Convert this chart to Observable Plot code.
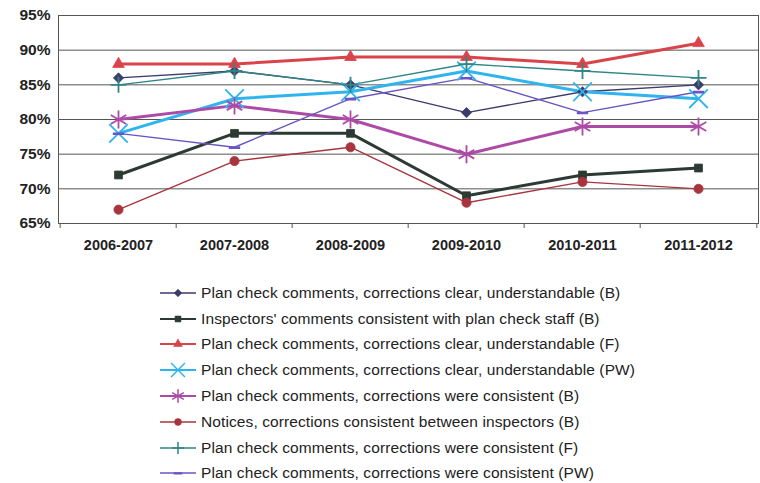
<!DOCTYPE html>
<html>
<head>
<meta charset="utf-8">
<script src="https://cdn.jsdelivr.net/npm/d3@7"></script>
<script src="https://cdn.jsdelivr.net/npm/@observablehq/plot@0.6"></script>
<style>
  html, body { margin: 0; padding: 0; background: #fff; }
  body { width: 760px; height: 483px; overflow: hidden; font-family: "Liberation Sans", Arial, sans-serif; }
  #legend { margin-left: 160px; margin-top: 22px; }
  .row { display: flex; align-items: center; height: 25.8px; }
  .row svg { display: block; margin-right: 3px; }
  .row span { font-size: 15.5px; color: #222; letter-spacing: 0.1px; }
</style>
</head>
<body>
<div id="chart"></div>
<div id="legend"></div>
<script>
const years = ["2006-2007", "2007-2008", "2008-2009", "2009-2010", "2010-2011", "2011-2012"];
const yTicks = [65, 70, 75, 80, 85, 90, 95];

const seriesNames = [
  "Plan check comments, corrections clear, understandable (B)",
  "Inspectors' comments consistent with plan check staff (B)",
  "Plan check comments, corrections clear, understandable (F)",
  "Plan check comments, corrections clear, understandable (PW)",
  "Plan check comments, corrections were consistent (B)",
  "Notices, corrections consistent between inspectors (B)",
  "Plan check comments, corrections were consistent (F)",
  "Plan check comments, corrections were consistent (PW)"
];
const clearB       = [86, 87, 85, 81, 84, 85];
const inspectorsB  = [72, 78, 78, 69, 72, 73];
const clearF       = [88, 88, 89, 89, 88, 91];
const clearPW      = [78, 83, 84, 87, 84, 83];
const consistentB  = [80, 82, 80, 75, 79, 79];
const noticesB     = [67, 74, 76, 68, 71, 70];
const consistentF  = [85, 87, 85, 88, 87, 86];
const consistentPW = [78, 76, 83, 86, 81, 84];
const seriesValues = [clearB, inspectorsB, clearF, clearPW, consistentB, noticesB, consistentF, consistentPW];

// styles
const colors  = ["#3d3b6b", "#2d3a33", "#d9444b", "#2fb4ee", "#ad4aa6", "#a8353d", "#2f8686", "#6b55c4"];
const widths  = [1.4, 3, 3, 3, 3, 1.4, 1.4, 1.4];
const dash = { draw(ctx, size) { const w = Math.sqrt(size) * 0.8; ctx.moveTo(-w, 0); ctx.lineTo(w, 0); ctx.moveTo(-w, 0.8); ctx.lineTo(w, 0.8);} };
const symbols = ["diamond2", "square2", "triangle2", "times", "asterisk", "circle", "plus", dash];
const radii   = [4.6, 5, 5.6, 8.5, 8.5, 4.6, 5.2, 4];
const filled  = [true, true, true, false, false, true, false, false];

const data = [];
seriesNames.forEach((s, i) => seriesValues[i].forEach((v, j) => data.push({series: s, idx: i, year: years[j], value: v})));

const bw = 700 / years.length;
const marks = [
  Plot.ruleY(yTicks, {stroke: "#555", strokeWidth: 1}),
  Plot.frame({stroke: "#555", strokeWidth: 1}),
  Plot.axisY({ticks: yTicks, tickFormat: d => d + "%", label: null, tickSize: 5, tickPadding: 3, fontSize: 15.5, fontWeight: "bold", fill: "#222", stroke: null}),
  Plot.axisX({tickSize: 0, tickPadding: 16, label: null, fontSize: 14.5, fontWeight: "bold", fill: "#222"}),
  Plot.axisX({tickSize: 5, text: null, label: null, dx: -bw / 2, stroke: "#555"}),
  Plot.axisX({ticks: [years[years.length - 1]], tickSize: 5, text: null, label: null, dx: bw / 2, stroke: "#555"})
];
seriesNames.forEach((s, i) => {
  const d = data.filter(r => r.idx === i);
  marks.push(Plot.line(d, {x: "year", y: "value", stroke: colors[i], strokeWidth: widths[i]}));
});
seriesNames.forEach((s, i) => {
  const d = data.filter(r => r.idx === i);
  marks.push(Plot.dot(d, {
    x: "year", y: "value", symbol: () => symbols[i], r: radii[i],
    fill: filled[i] ? colors[i] : "none",
    stroke: colors[i], strokeWidth: filled[i] ? 0.8 : 1.8
  }));
});

const chart = Plot.plot({
  width: 760,
  height: 258,
  marginLeft: 58,
  marginRight: 2,
  marginTop: 15,
  marginBottom: 35,
  style: {fontFamily: "'Liberation Sans', Arial, sans-serif", background: "#fff"},
  x: {type: "band", domain: years, padding: 0, axis: null, label: null},
  y: {domain: [65, 95], axis: null, label: null},
  symbol: {type: "identity"},
  marks
});
document.getElementById("chart").appendChild(chart);

// legend
const legend = d3.select("#legend");
seriesNames.forEach((s, i) => {
  const row = legend.append("div").attr("class", "row");
  const svg = row.append("svg").attr("width", 38).attr("height", 16);
  svg.append("line").attr("x1", 0).attr("x2", 36).attr("y1", 8).attr("y2", 8)
    .attr("stroke", colors[i]).attr("stroke-width", Math.min(widths[i], 2.2));
  const typeMap = {diamond2: d3.symbolDiamond2, square2: d3.symbolSquare2, triangle2: d3.symbolTriangle2, times: d3.symbolTimes, asterisk: d3.symbolAsterisk, circle: d3.symbolCircle, plus: d3.symbolPlus};
  const t = typeof symbols[i] === "string" ? typeMap[symbols[i]] : symbols[i];
  const r = radii[i] * 0.75;
  svg.append("path").attr("transform", "translate(18,8)")
    .attr("d", d3.symbol(t, Math.PI * r * r)())
    .attr("fill", filled[i] ? colors[i] : "none")
    .attr("stroke", colors[i]).attr("stroke-width", filled[i] ? 0.6 : 1.5);
  row.append("span").text(s);
});
</script>
</body>
</html>
